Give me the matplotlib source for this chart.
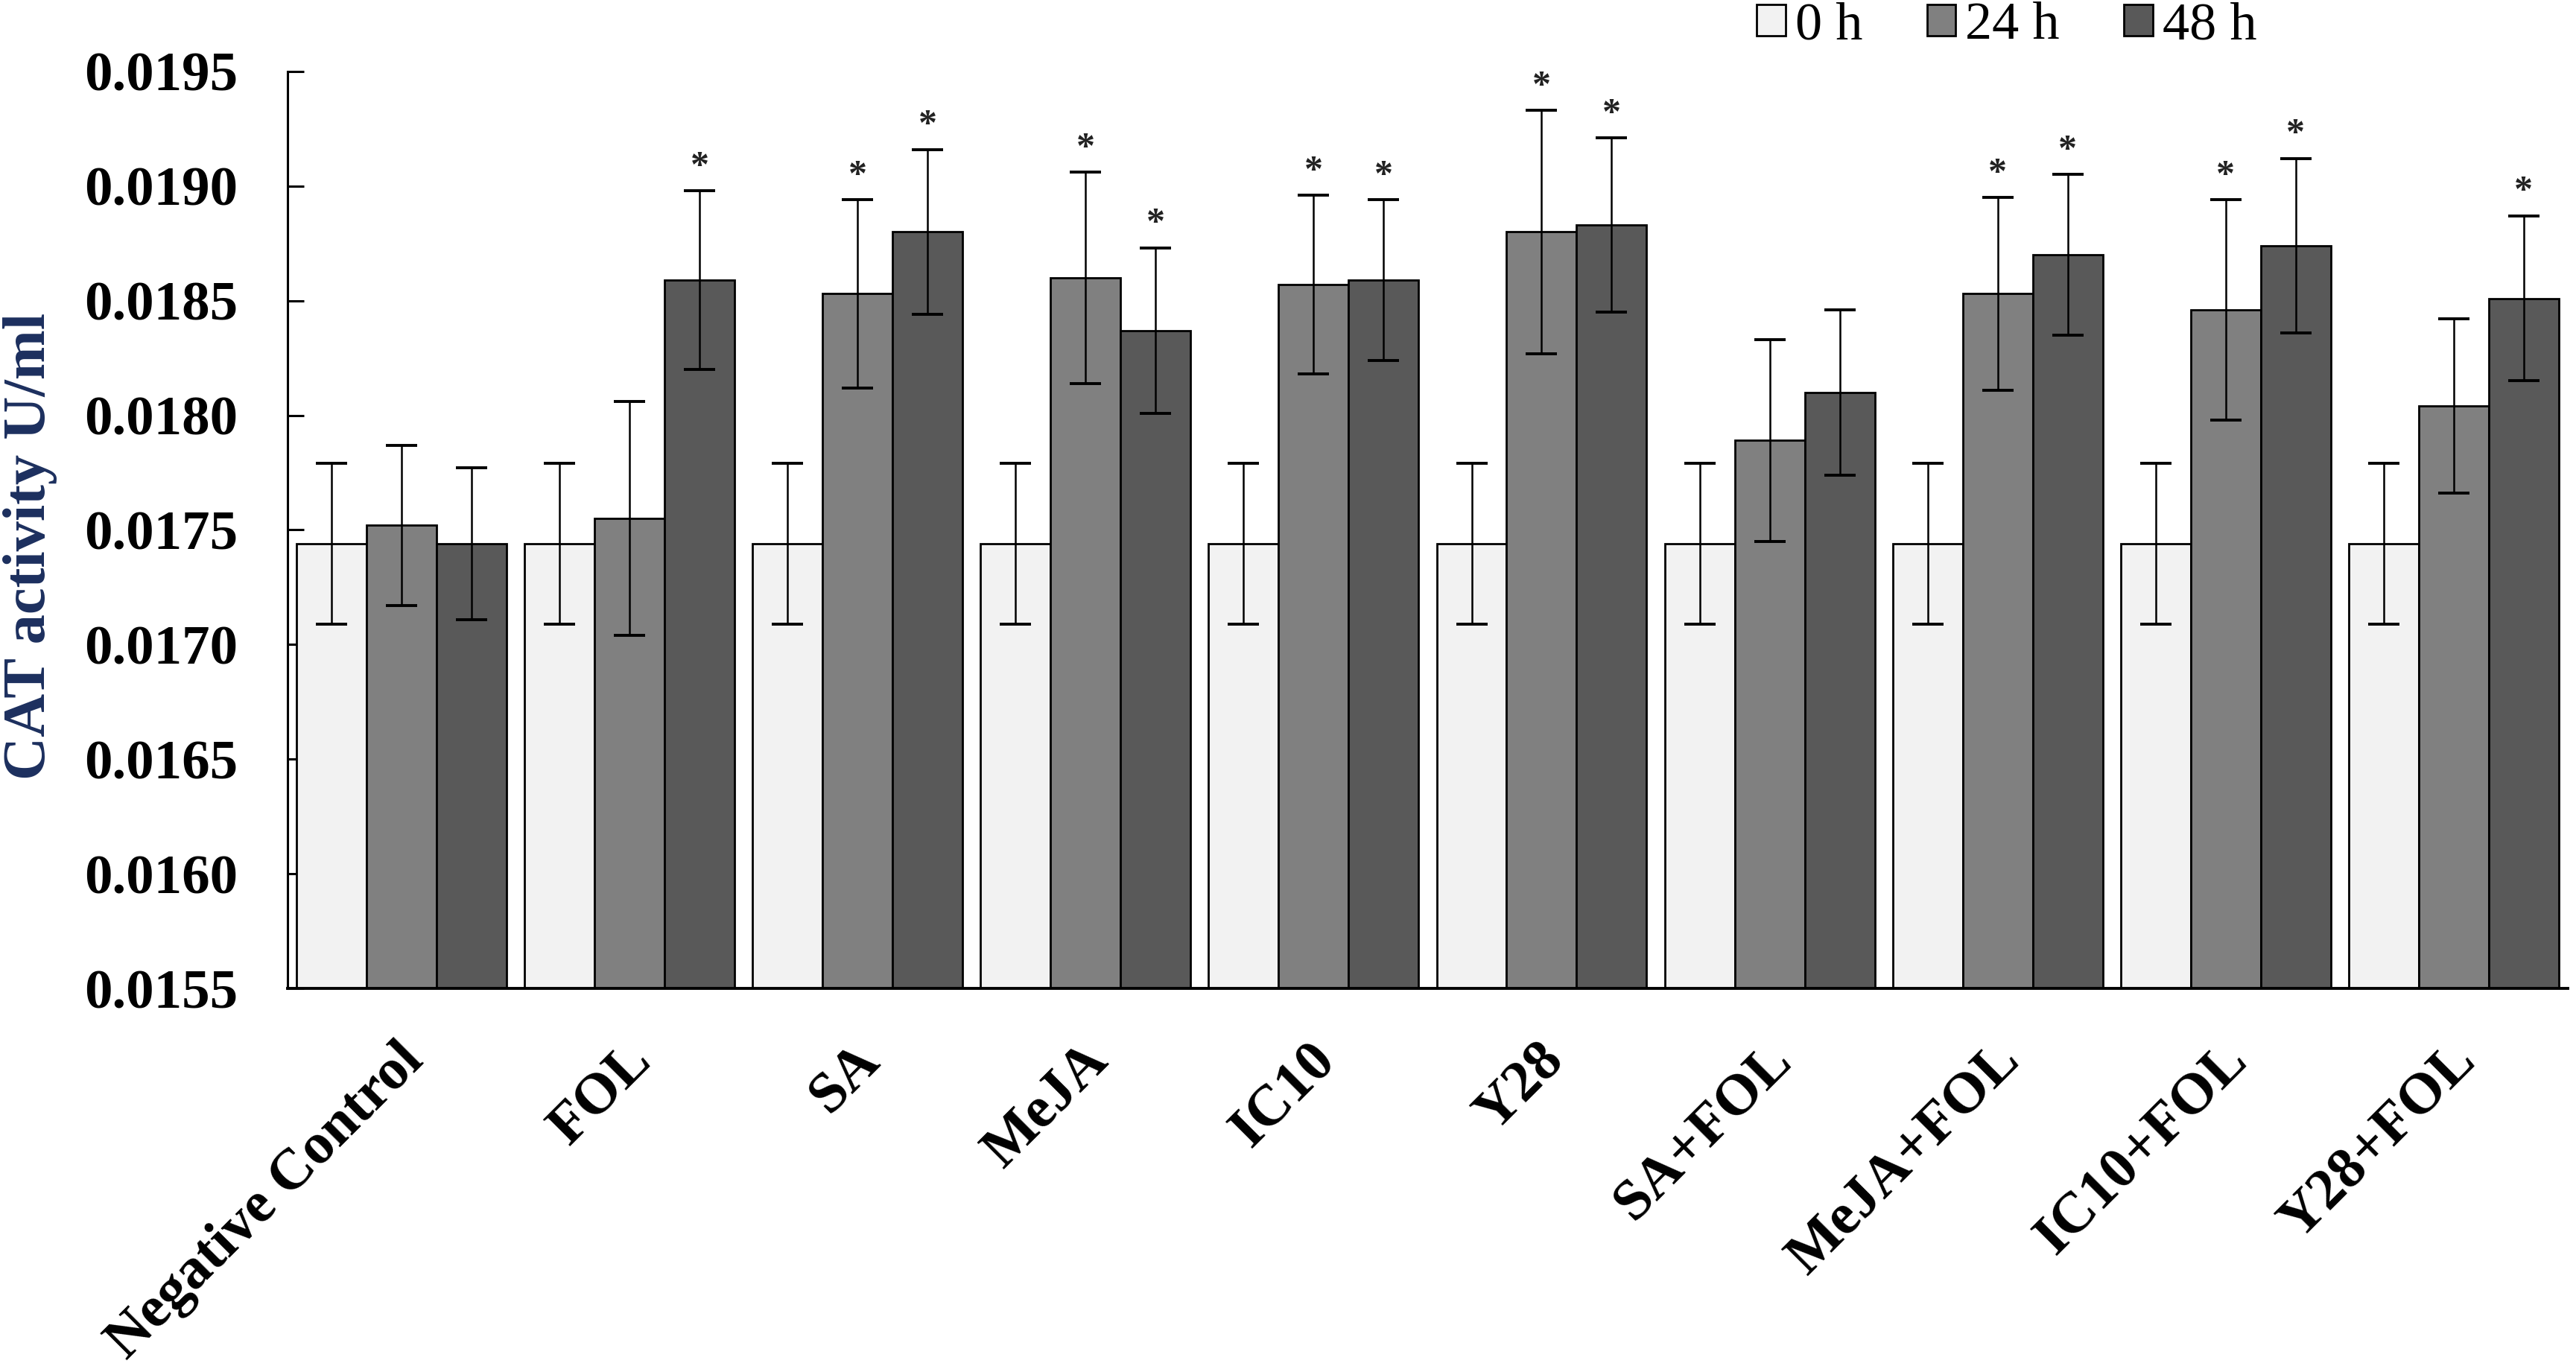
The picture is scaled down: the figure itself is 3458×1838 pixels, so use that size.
import numpy as np
import matplotlib.pyplot as plt

plt.rcParams['font.family'] = ['Liberation Serif', 'DejaVu Serif']

groups = ['Negative Control', 'FOL', 'SA', 'MeJA', 'IC10', 'Y28',
          'SA+FOL', 'MeJA+FOL', 'IC10+FOL', 'Y28+FOL']
series = ['0 h', '24 h', '48 h']

h0 = [0.01744, 0.01744, 0.01744, 0.01744, 0.01744,
      0.01744, 0.01744, 0.01744, 0.01744, 0.01744]
e0 = [0.00035, 0.00035, 0.00035, 0.00035, 0.00035,
      0.00035, 0.00035, 0.00035, 0.00035, 0.00035]
h24 = [0.01752, 0.01755, 0.01853, 0.01860, 0.01857,
       0.01880, 0.01789, 0.01853, 0.01846, 0.01804]
e24 = [0.00035, 0.00051, 0.00041, 0.00046, 0.00039,
       0.00053, 0.00044, 0.00042, 0.00048, 0.00038]
h48 = [0.01744, 0.01859, 0.01880, 0.01837, 0.01859,
       0.01883, 0.01810, 0.01870, 0.01874, 0.01851]
e48 = [0.00033, 0.00039, 0.00036, 0.00036, 0.00035,
       0.00038, 0.00036, 0.00035, 0.00038, 0.00036]

# significance stars (1 = '*')
s0 = [0, 0, 0, 0, 0, 0, 0, 0, 0, 0]
s24 = [0, 0, 1, 1, 1, 1, 0, 1, 1, 0]
s48 = [0, 1, 1, 1, 1, 1, 0, 1, 1, 1]

colors = ['#f2f2f2', '#808080', '#595959']

fig = plt.figure(figsize=(17.29, 9.19), dpi=200)
ax = fig.add_axes([0.1116, 0.278, 0.8852, 0.6698])

x = np.arange(len(groups))
w = 0.307
data = [(h0, e0, s0), (h24, e24, s24), (h48, e48, s48)]
for i, (vals, errs, stars) in enumerate(data):
    pos = x + (i - 1) * w
    ax.bar(pos, vals, w, color=colors[i], edgecolor='black', linewidth=1.0,
           label=series[i], zorder=2)
    ax.errorbar(pos, vals, yerr=errs, fmt='none', ecolor='black',
                elinewidth=0.9, capsize=7.5, capthick=1.4, zorder=3)
    for p, v, e, s in zip(pos, vals, errs, stars):
        if s:
            ax.annotate('*', (p, v + e), xytext=(0, 7), textcoords='offset points',
                        ha='center', va='baseline', fontsize=18,
                        fontweight='bold', color='#222222')

ax.set_xlim(-0.5, len(groups) - 0.5)
ax.set_ylim(0.0155, 0.0195)
yt = np.arange(0.0155, 0.01951, 0.0005)
ax.set_yticks(yt)
ax.set_yticklabels(['%.4f' % t for t in yt], fontsize=27, fontweight='bold')
ax.tick_params(axis='y', direction='in', length=8, width=1.1, pad=24)

ax.set_xticks(x - 0.02)
ax.set_xticklabels(groups, rotation=45, ha='right', va='top',
                   rotation_mode='anchor', fontsize=28, fontweight='bold')
ax.tick_params(axis='x', length=0, pad=22)

ax.spines['top'].set_visible(False)
ax.spines['right'].set_visible(False)
ax.spines['left'].set_linewidth(1.1)
ax.spines['bottom'].set_linewidth(1.4)

ax.set_ylabel('CAT activity U/ml', fontsize=29, fontweight='bold', color='#1c2f5e')
ax.yaxis.set_label_coords(-0.101, 0.4825)

fig.legend(loc='center left', bbox_to_anchor=(0.682, 0.981), ncol=3,
           frameon=False, fontsize=26, handlelength=0.53, handleheight=0.53,
           handletextpad=0.18, columnspacing=1.2, borderpad=0, borderaxespad=0)

fig.savefig('out.png', dpi=200)
